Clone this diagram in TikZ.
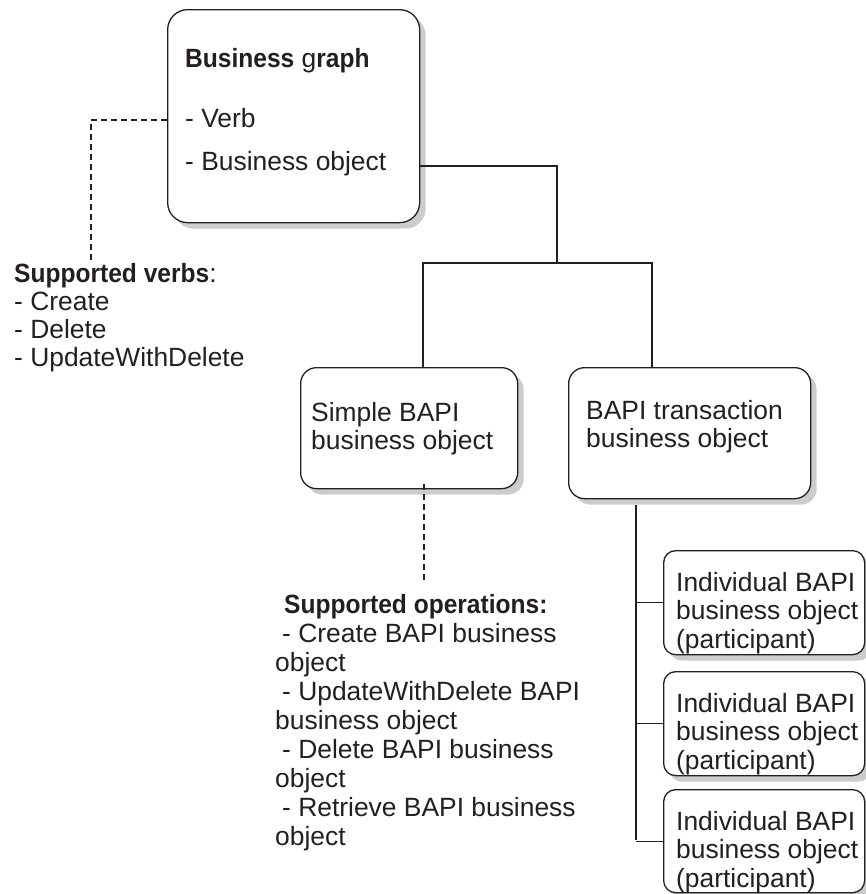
\documentclass[tikz,border=0pt]{standalone}
\usepackage{fontspec}
\setmainfont{Liberation Sans}
\usetikzlibrary{shadows}
\definecolor{ink}{HTML}{231F20}
% bold words keep the text height but run a little narrower
\newcommand\heavy[1]{\scalebox{0.93}[1]{\bfseries #1}}
\begin{document}
\begin{tikzpicture}[x=1pt,y=-1pt,
  box/.style={draw=ink, line width=1.3pt, rounded corners=#1, fill=white,
    inner sep=0pt, anchor=north west,
    drop shadow={shadow xshift=6pt, shadow yshift=-6pt, fill=black!20, opacity=1}},
  box/.default=16pt,
  smallbox/.style={box=12pt, minimum width=201pt,
    drop shadow={shadow xshift=4pt, shadow yshift=-4pt, fill=black!20, opacity=1}},
  txt/.style={anchor=north west, inner sep=0pt, align=left, text=ink,
    font=\fontsize{26.4}{28.5}\selectfont},
  wire/.style={draw=ink, line width=1.2pt},
  dashline/.style={draw=ink, line width=1.1pt, dash pattern=on 6pt off 4pt}
]
\useasboundingbox (0,0) rectangle (865,894);

% boxes
\node[box=20pt, minimum width=252pt, minimum height=213pt] (graph) at (167,9) {};
\node[box, minimum width=217pt, minimum height=121pt] (simple) at (300,367) {};
\node[box, minimum width=242pt, minimum height=131pt] (trans) at (568,367) {};
\node[smallbox, minimum height=104pt] (ind1) at (663,550) {};
\node[smallbox, minimum height=104pt] (ind2) at (663,671) {};
\node[smallbox, minimum height=103pt] (ind3) at (663,789) {};

% box texts
\node[txt, anchor=base west] (gtitle) at (185,67) {\heavy{Business} g\heavy{raph}};
\node[txt, anchor=base west] (gverb) at (185,127) {- Verb};
\node[txt, anchor=base west] (gobj) at (185,170) {- Business object};
\node[txt] (simpletxt) at (311,402) {Simple BAPI\\business object};
\node[txt] (transtxt) at (586,400) {BAPI transaction\\business object};
\node[txt] (ind1txt) at (676,572) {Individual BAPI\\business object\\(participant)};
\node[txt] (ind2txt) at (676,693) {Individual BAPI\\business object\\(participant)};
\node[txt] (ind3txt) at (676,811) {Individual BAPI\\business object\\(participant)};

% notes
\node[txt, font=\fontsize{26.4}{28}\selectfont] (verbs) at (14,263)
  {\heavy{Supported verbs}:\\- Create\\- Delete\\- UpdateWithDelete};
\node[txt, font=\fontsize{26.4}{29}\selectfont] (ops) at (275,594)
  {\hspace*{9pt}\heavy{Supported operations:}\\
   \hspace*{7pt}- Create BAPI business\\object\\
   \hspace*{7pt}- UpdateWithDelete BAPI\\business object\\
   \hspace*{7pt}- Delete BAPI business\\object\\
   \hspace*{7pt}- Retrieve BAPI business\\object};

% hierarchy connectors
\coordinate (hub) at (557,263);
\coordinate (barl) at (423,263);
\coordinate (barr) at (652,263);
\draw[wire] (graph.east |- 0,166) -| (hub);
\draw[wire] (simple.north -| barl) -- (barl) -- (barr) -- (trans.north -| barr);

\coordinate (ttop) at (636,505);
\coordinate (tbot) at (636,840);
\draw[wire] (ttop) -- (tbot);
\draw[wire] (ind1.west -| ttop) -- (ind1.west);
\draw[wire] (ind2.west -| ttop) -- (ind2.west);
\draw[wire] (ind3.west -| ttop) -- (ind3.west);

% note connectors
\coordinate (vcorner) at (91,120);
\coordinate (vend) at (91,260);
\draw[dashline] (graph.west |- vcorner) -- (vcorner) -- (vend);
\coordinate (oend) at (424,580);
\draw[dashline] ([yshift=5pt]simple.south -| oend) -- (oend);
\end{tikzpicture}
\end{document}
